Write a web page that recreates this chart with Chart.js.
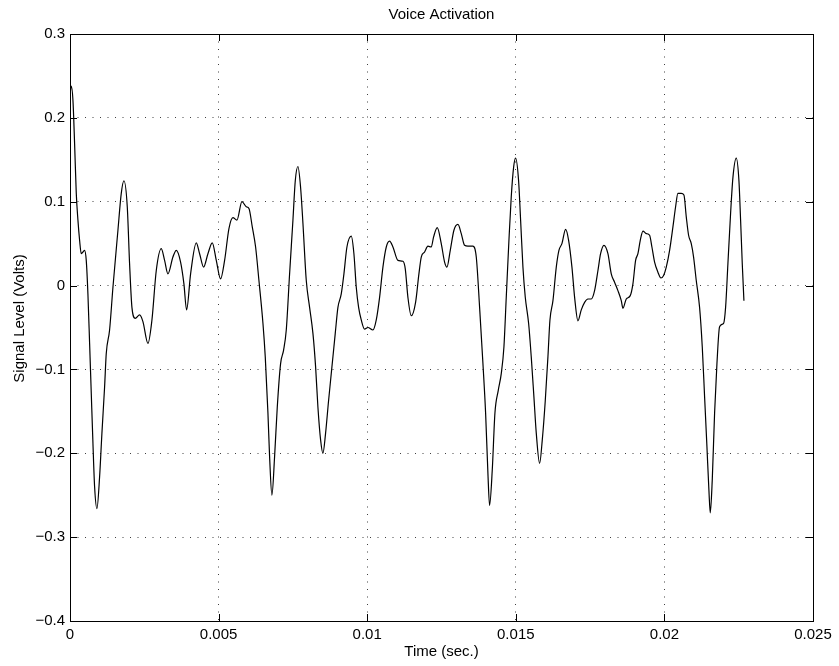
<!DOCTYPE html>
<html>
<head>
<meta charset="utf-8">
<title>Voice Activation</title>
<script src="https://cdn.jsdelivr.net/npm/chart.js@4"></script>
<style>
  html, body { margin: 0; padding: 0; background: #fff; }
  #wrap { width: 839px; height: 666px; position: relative; }
</style>
</head>
<body>
<div id="wrap"><canvas id="chart"></canvas></div>
<script>
// Values
const chartTitle = 'Voice Activation';
const xTitle = 'Time (sec.)';
const yTitle = 'Signal Level (Volts)';

const xTicks = [0, 0.005, 0.01, 0.015, 0.02, 0.025];
const yTicks = [-0.4, -0.3, -0.2, -0.1, 0, 0.1, 0.2, 0.3];

// time (s)
const timeSec = [
  0, 0.000043, 0.000099, 0.000155, 0.000211, 0.000267, 0.000323, 0.000379, 0.000435, 0.000491,
  0.000547, 0.000603, 0.000660, 0.000716, 0.000772, 0.000828, 0.000906, 0.000996, 0.001074, 0.001164,
  0.001220, 0.001332, 0.001445, 0.001613, 0.001725, 0.001815, 0.001927, 0.002005, 0.002084, 0.002196,
  0.002342, 0.002454, 0.002622, 0.002757, 0.002903, 0.003071, 0.003183, 0.003295, 0.003463, 0.003576,
  0.003721, 0.003833, 0.003923, 0.004058, 0.004249, 0.004361,
  0.004495, 0.004641, 0.004787, 0.004922, 0.005067, 0.005202, 0.005348, 0.005482, 0.005617, 0.005785,
  0.005931, 0.006021, 0.006133, 0.006245, 0.006357, 0.006492, 0.006570, 0.006660, 0.006716, 0.006794,
  0.006884, 0.006974, 0.007086, 0.007187, 0.007277, 0.007389, 0.007501, 0.007580, 0.007669, 0.007759,
  0.007838, 0.007950,
  0.008062, 0.008174, 0.008264, 0.008342, 0.008432, 0.008510, 0.008600, 0.008701, 0.008813, 0.008925,
  0.009015, 0.009127, 0.009217, 0.009318, 0.009464, 0.009553, 0.009632, 0.009711, 0.009800, 0.009912,
  0.010025, 0.010193, 0.010305, 0.010417, 0.010529, 0.010642, 0.010754, 0.010866, 0.011034, 0.011202,
  0.011281, 0.011370, 0.011483,
  0.011628, 0.011740, 0.011819, 0.011931, 0.012043, 0.012155, 0.012234, 0.012357, 0.012492, 0.012604,
  0.012683, 0.012795, 0.012918, 0.013053, 0.013165, 0.013277, 0.013389, 0.013557, 0.013670, 0.013782,
  0.013894, 0.013984, 0.014062, 0.014118, 0.014208, 0.014298, 0.014410, 0.014511, 0.014601, 0.014679,
  0.014769, 0.014847, 0.014926, 0.014993,
  0.015094, 0.015162, 0.015240, 0.015319, 0.015431, 0.015520, 0.015610, 0.015689, 0.015801, 0.015891,
  0.015992, 0.016081, 0.016149, 0.016250, 0.016362, 0.016451, 0.016552, 0.016676, 0.016777, 0.016889,
  0.016979, 0.017091, 0.017203, 0.017315, 0.017427, 0.017539, 0.017651, 0.017764, 0.017853, 0.017965,
  0.018100, 0.018212, 0.018324, 0.018436, 0.018549,
  0.018605, 0.018717, 0.018851, 0.018941, 0.019031, 0.019109, 0.019188, 0.019278, 0.019389, 0.019502,
  0.019580, 0.019670, 0.019782, 0.019883, 0.019973, 0.020063, 0.020175, 0.020287, 0.020377, 0.020455,
  0.020567, 0.020657, 0.020736, 0.020814, 0.020904, 0.020982, 0.021072, 0.021184, 0.021274, 0.021353,
  0.021431, 0.021498, 0.021543, 0.021610, 0.021689, 0.021768, 0.021857, 0.021992, 0.022059, 0.022137,
  0.022227, 0.022306, 0.022418, 0.022508, 0.022564, 0.022620, 0.022676
];

// signal level (V)
const signalVolts = [
  0.228, 0.238, 0.221, 0.169, 0.110, 0.078, 0.054, 0.038, 0.040, 0.042,
  0.030, -0.010, -0.069, -0.129, -0.188, -0.240, -0.266, -0.228, -0.176, -0.121,
  -0.081, -0.053, -0.002, 0.066, 0.110, 0.125, 0.094, 0.026, -0.026, -0.039,
  -0.035, -0.043, -0.069, -0.041, 0.018, 0.044, 0.030, 0.014, 0.034, 0.042,
  0.028, 0.002, -0.029, 0.014, 0.051, 0.038,
  0.022, 0.038, 0.051, 0.030, 0.008, 0.030, 0.068, 0.081, 0.078, 0.100,
  0.094, 0.092, 0.070, 0.046, 0.006, -0.045, -0.085, -0.152, -0.204, -0.250,
  -0.204, -0.145, -0.093, -0.077, -0.053, 0.014, 0.078, 0.125, 0.142, 0.117,
  0.074, 0.006,
  -0.026, -0.057, -0.097, -0.145, -0.184, -0.200, -0.176, -0.137, -0.097, -0.057,
  -0.026, -0.010, 0.014, 0.046, 0.059, 0.038, -0.002, -0.026, -0.041, -0.052,
  -0.050, -0.053, -0.041, -0.014, 0.022, 0.046, 0.053, 0.046, 0.030, 0.029,
  0.020, -0.014, -0.036,
  -0.020, 0.014, 0.034, 0.040, 0.047, 0.046, 0.058, 0.069, 0.050, 0.028,
  0.022, 0.042, 0.066, 0.073, 0.062, 0.048, 0.047, 0.047, 0.034, -0.026,
  -0.093, -0.152, -0.224, -0.262, -0.220, -0.152, -0.125, -0.105, -0.073, -0.014,
  0.054, 0.106, 0.141, 0.152,
  0.125, 0.078, 0.022, -0.014, -0.045, -0.085, -0.133, -0.176, -0.212, -0.184,
  -0.137, -0.085, -0.041, -0.018, 0.022, 0.042, 0.050, 0.067, 0.054, 0.022,
  -0.014, -0.042, -0.029, -0.020, -0.016, -0.016, -0.006, 0.018, 0.038, 0.048,
  0.038, 0.014, 0.004, -0.006, -0.018,
  -0.027, -0.016, -0.012, 0.002, 0.030, 0.038, 0.054, 0.065, 0.062, 0.060,
  0.046, 0.028, 0.016, 0.009, 0.012, 0.022, 0.042, 0.070, 0.094, 0.110,
  0.110, 0.108, 0.082, 0.060, 0.050, 0.034, 0.006, -0.026, -0.073, -0.133,
  -0.192, -0.244, -0.271, -0.232, -0.152, -0.093, -0.049, -0.045, -0.026, 0.026,
  0.086, 0.129, 0.152, 0.125, 0.078, 0.026, -0.018
];

const FONT = '"Liberation Sans", Arial, Helvetica, sans-serif';

function fmt(v) {
  const s = String(parseFloat(v.toFixed(4)));
  return s.replace('-', '\u2212');
}

// axes box, inward tick marks, title and y label (MATLAB style)
const matlabFrame = {
  id: 'matlabFrame',
  afterDraw(chart) {
    const { ctx, chartArea: a, scales: { x, y } } = chart;
    const len = 7;
    ctx.save();
    ctx.strokeStyle = '#000';
    ctx.lineWidth = 1;
    ctx.beginPath();
    xTicks.forEach(v => {
      const px = Math.round(x.getPixelForValue(v)) + 0.5;
      ctx.moveTo(px, a.bottom); ctx.lineTo(px, a.bottom - len);
      ctx.moveTo(px, a.top); ctx.lineTo(px, a.top + len);
    });
    yTicks.forEach(v => {
      const py = Math.round(y.getPixelForValue(v)) + 0.5;
      ctx.moveTo(a.left, py); ctx.lineTo(a.left + len, py);
      ctx.moveTo(a.right, py); ctx.lineTo(a.right - len, py);
    });
    ctx.stroke();
    ctx.strokeRect(Math.round(a.left) + 0.5, Math.round(a.top) + 0.5,
      Math.round(a.width), Math.round(a.height));

    ctx.fillStyle = '#000';
    ctx.font = '15px ' + FONT;
    ctx.textAlign = 'center';
    ctx.textBaseline = 'middle';
    ctx.fillText(chartTitle, (a.left + a.right) / 2, 15);

    // y label sits a little above the axis centre in the original
    ctx.translate(20, (a.top + a.bottom) / 2 - 9);
    ctx.rotate(-Math.PI / 2);
    ctx.fillText(yTitle, 0, 0);
    ctx.restore();
  }
};

const ctx = document.getElementById('chart').getContext('2d');
new Chart(ctx, {
  type: 'line',
  data: {
    datasets: [{
      data: timeSec.map((t, i) => ({ x: t, y: signalVolts[i] })),
      borderColor: '#000',
      borderWidth: 1.2,
      pointRadius: 0,
      cubicInterpolationMode: 'monotone',
      fill: false
    }]
  },
  options: {
    responsive: true,
    maintainAspectRatio: false,
    animation: false,
    layout: { padding: { left: 0, right: 26, top: 34, bottom: 0 } },
    plugins: {
      legend: { display: false },
      title: { display: false },
      tooltip: { enabled: false }
    },
    scales: {
      x: {
        type: 'linear',
        min: 0,
        max: 0.025,
        afterFit: (scale) => { scale.height = 45; },
        afterBuildTicks: (scale) => { scale.ticks = xTicks.map(v => ({ value: v })); },
        ticks: {
          padding: 5,
          maxRotation: 0,
          color: '#000',
          font: { size: 15, family: FONT },
          callback: (v) => fmt(v)
        },
        grid: { color: 'rgba(0,0,0,0.75)', lineWidth: 1, drawTicks: false },
        border: { display: false, dash: [1, 6.5] },
        title: {
          display: true,
          text: xTitle,
          color: '#000',
          font: { size: 15, family: FONT },
          padding: { top: 0, bottom: 5 }
        }
      },
      y: {
        min: -0.4,
        max: 0.3,
        afterFit: (scale) => { scale.width = 70; },
        afterBuildTicks: (scale) => { scale.ticks = yTicks.map(v => ({ value: v })); },
        ticks: {
          padding: 5,
          color: '#000',
          font: { size: 15, family: FONT },
          callback: (v) => fmt(v)
        },
        grid: { color: 'rgba(0,0,0,0.75)', lineWidth: 1, drawTicks: false },
        border: { display: false, dash: [1, 6.5] },
        title: { display: false }
      }
    }
  },
  plugins: [matlabFrame]
});
</script>
</body>
</html>
